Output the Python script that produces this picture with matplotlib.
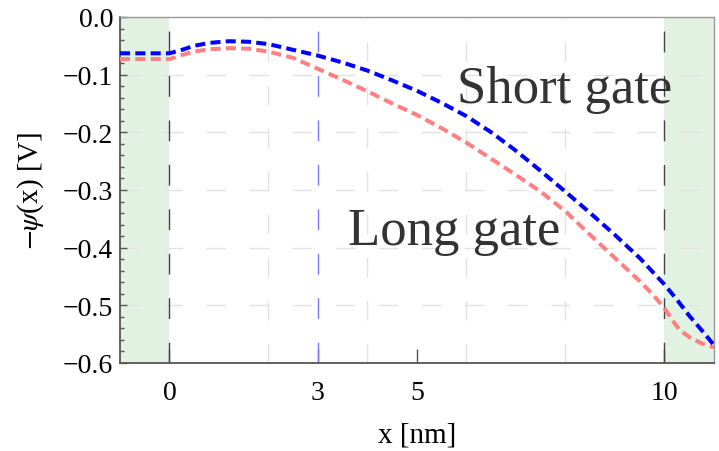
import numpy as np
import matplotlib
matplotlib.use("Agg")
import matplotlib.pyplot as plt
from matplotlib.ticker import MultipleLocator, FuncFormatter

plt.rcParams['font.family'] = ['Liberation Serif', 'DejaVu Serif']
plt.rcParams['mathtext.fontset'] = 'stix'

# potential profile along the channel
x_short = [-1, -0.5, 0, 0.25, 0.5, 0.8, 1.2, 1.6, 2, 2.5, 3, 3.5, 4, 4.5, 5,
           5.5, 6, 6.5, 7, 7.5, 8, 8.5, 9, 9.5, 10, 10.25, 10.5, 10.75, 11]
y_short = [-0.063, -0.063, -0.063, -0.057, -0.050, -0.045, -0.042, -0.043,
           -0.047, -0.057, -0.067, -0.079, -0.093, -0.110, -0.128, -0.149,
           -0.172, -0.200, -0.232, -0.267, -0.303, -0.340, -0.378, -0.418,
           -0.464, -0.490, -0.518, -0.543, -0.569]

x_long = [-1, -0.5, 0, 0.25, 0.5, 0.8, 1.2, 1.6, 2, 2.5, 3, 3.5, 4, 4.5, 5,
          5.5, 6, 6.5, 7, 7.5, 8, 8.5, 9, 9.5, 9.75, 10, 10.15, 10.3, 10.5,
          10.75, 11]
y_long = [-0.073, -0.073, -0.073, -0.066, -0.060, -0.056, -0.054, -0.055,
          -0.060, -0.071, -0.090, -0.109, -0.129, -0.150, -0.170, -0.193,
          -0.218, -0.246, -0.274, -0.303, -0.337, -0.378, -0.418, -0.458,
          -0.480, -0.505, -0.525, -0.542, -0.555, -0.566, -0.573]

contacts = [(-1, 0), (10, 11)]
gate_edges = [0, 10]
x_mark = 3
grid_x = [2, 4, 6, 8]
grid_y = [-0.1, -0.2, -0.3, -0.4, -0.5]
xticks = [0, 3, 5, 10]

fig = plt.figure(figsize=(7.19, 4.52), dpi=100)
ax = fig.add_axes([0.1669, 0.1947, 0.8261, 0.7655])

for a, b in contacts:
    ax.axvspan(a, b, color='#e2f2e2', lw=0, zorder=0)

for gx in grid_x:
    ax.axvline(gx, color='#e2e2e2', lw=1.0, dashes=(14, 17), zorder=1)
for gy in grid_y:
    ax.axhline(gy, color='#e2e2e2', lw=1.0, dashes=(14, 17), zorder=1)

for gx in gate_edges:
    ax.axvline(gx, color='#444444', lw=1.0, dashes=(15, 17), zorder=2)
ax.axvline(x_mark, color='#7a7aff', lw=1.0, dashes=(15, 17), zorder=2)

ax.plot(x_long, y_long, color='#ff8080', lw=2.9, dashes=(2.5, 1.3), zorder=3)
ax.plot(x_short, y_short, color='#0000ff', lw=2.9, dashes=(2.5, 1.3), zorder=4)

ax.text(5.81, -0.147, 'Short gate', fontsize=38, color='#333333', zorder=5)
ax.text(3.61, -0.394, 'Long gate', fontsize=38, color='#333333', zorder=5)

ax.set_xlim(-1, 11)
ax.set_ylim(-0.6, 0.0)
ax.set_xticks(xticks)
ax.yaxis.set_major_locator(MultipleLocator(0.1))
ax.yaxis.set_minor_locator(MultipleLocator(0.02))
ax.yaxis.set_major_formatter(FuncFormatter(
    lambda v, pos: ('%.1f' % v).replace('-', '\u2212')))

ax.tick_params(axis='x', direction='in', length=10, width=1, color='#555555',
               labelsize=20, pad=12, top=False)
ax.tick_params(axis='y', which='major', direction='in', length=5, width=1,
               color='#555555', labelsize=20, pad=5, right=False)
ax.tick_params(axis='y', which='minor', direction='in', length=3, width=1,
               color='#555555', right=False)

for s in ['left', 'bottom']:
    ax.spines[s].set_color('#555555')
    ax.spines[s].set_linewidth(1.3)
for s in ['top', 'right']:
    ax.spines[s].set_color('#999999')
    ax.spines[s].set_linewidth(1.0)

ax.set_xlabel('x [nm]', fontsize=21, labelpad=12)
ax.set_ylabel(r'$-\psi$(x) [V]', fontsize=21, labelpad=12)

fig.savefig('out.png', dpi=100)
